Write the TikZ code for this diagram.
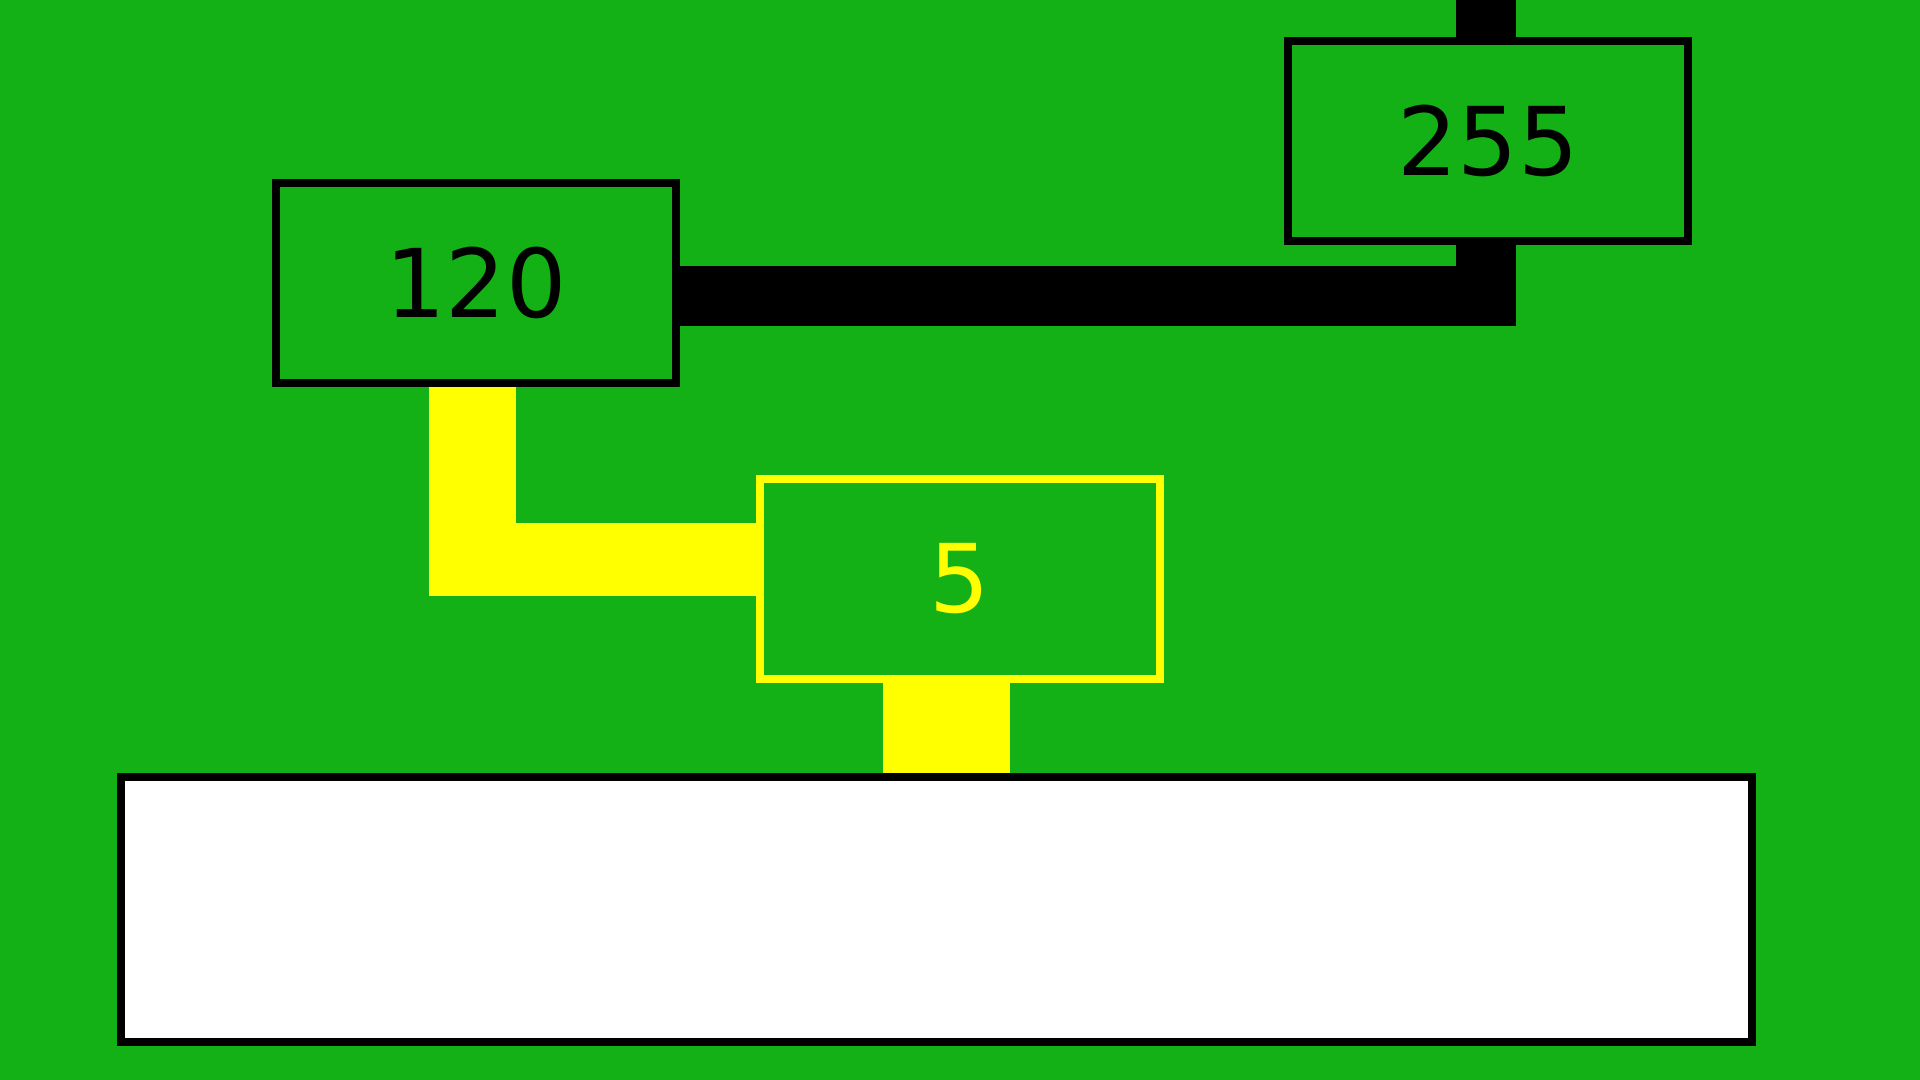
\documentclass[tikz,border=0pt]{standalone}
\usepackage{fontspec}
\setmainfont{DejaVu Sans}
\usepackage{xcolor}
\usepackage{tikz}
\usetikzlibrary{positioning,calc}

\definecolor{boardgreen}{RGB}{19,177,21}
\definecolor{wireyellow}{RGB}{255,255,0}

\begin{document}
\begin{tikzpicture}[
  valbox/.style={draw, line width=0.08cm, minimum width=4cm, minimum height=2cm,
    inner sep=0pt, font=\fontsize{27}{32}\selectfont},
  wire/.style={line join=miter, line cap=butt}
]
% Background
\fill[boardgreen] (0,0) rectangle (19.2,10.8);
\useasboundingbox (0,0) rectangle (19.2,10.8);

% Value boxes
\node[valbox] (v255) at (14.88,9.39) {255};
\node[valbox] (v120) at (4.76,7.97) {120};
\node[valbox, draw=wireyellow, text=wireyellow] (v5) at (9.595,5.01) {5};

% Base strip
\node[draw, fill=white, line width=0.08cm, minimum width=16.31cm, minimum height=2.65cm] (base) at (9.365,1.705) {};

% Black wire
\coordinate (topin) at (14.855,10.8);
\coordinate (bend) at (14.855,7.835);
\draw[wire, line width=0.6cm] (topin) -- (v255.north -| topin);
\draw[wire, line width=0.6cm] (v120.east |- bend) -- (bend) -- (v255.south -| bend);

% Yellow wires
\coordinate (ybend) at (4.725,5.205);
\coordinate (yend) at (4.725,4.84);
\coordinate (ystart) at (4.29,5.205);
\coordinate (ydown) at (9.465,0);
\draw[wire, wireyellow, line width=0.87cm] (v120.south -| ybend) -- (yend);
\draw[wire, wireyellow, line width=0.73cm] (ystart) -- (v5.west |- ybend);
\draw[wire, wireyellow, line width=1.27cm] (v5.south -| ydown) -- (base.north -| ydown);

\end{tikzpicture}
\end{document}
